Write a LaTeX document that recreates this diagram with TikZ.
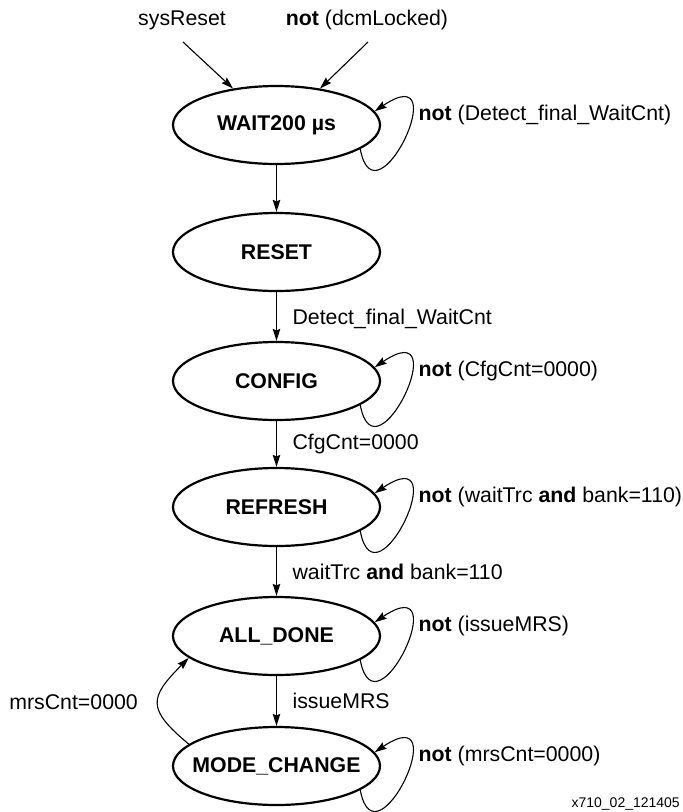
\documentclass[tikz,border=0pt]{standalone}
\usepackage{fontspec}
\setmainfont{Liberation Sans}
\usetikzlibrary{arrows.meta,shapes.geometric,calc}
\newcommand\stname[1]{\makebox[0pt]{\bfseries #1}}
\begin{document}
\begin{tikzpicture}[x=1pt,y=-1pt,
  font=\fontsize{21.3}{24}\selectfont,
  state/.style={ellipse,draw,line width=2.2pt,minimum width=207pt,minimum height=78pt,inner sep=0pt},
  conn/.style={line width=1.1pt,-{Stealth[length=12pt,width=7.5pt,inset=1.5pt]}},
  lbl/.style={inner sep=0pt},
  selfloop/.style={conn}]
\useasboundingbox (0,0) rectangle (683,812);
\node[state] (wait) at (276.5,125) {\stname{WAIT200 µs}};
\node[state] (reset) at (276.5,252) {\stname{RESET}};
\node[state] (config) at (276.5,381) {\stname{CONFIG}};
\node[state] (refresh) at (276.5,507) {\stname{REFRESH}};
\node[state] (done) at (276.5,636) {\stname{ALL\_DONE}};
\node[state] (mode) at (276.5,766) {\stname{MODE\_CHANGE}};
% top inputs
\node[lbl] (sys) at (182,20) {sysReset};
\node[lbl] (dcm) at (367,20) {\textbf{not} (dcmLocked)};
\coordinate (s1) at (183,42);
\coordinate (s2) at (368,42);
\draw[conn] (s1) -- (wait.140);
\draw[conn] (s2) -- (wait.40);
% vertical transitions
\draw[conn] (wait) -- (reset);
\draw[conn] (reset) -- node[lbl,anchor=west,xshift=15.5pt,yshift=-2pt]{Detect\_final\_WaitCnt} (config);
\draw[conn] (config) -- node[lbl,anchor=west,xshift=15.5pt]{CfgCnt=0000} (refresh);
\draw[conn] (refresh) -- node[lbl,anchor=west,xshift=15.5pt]{waitTrc \textbf{and} bank=110} (done);
\draw[conn] (done) -- node[lbl,anchor=west,xshift=15.5pt]{issueMRS} (mode);
% self loops
\foreach \n/\t in {wait/{\textbf{not} (Detect\_final\_WaitCnt)},
                   config/{\textbf{not} (CfgCnt=0000)},
                   refresh/{\textbf{not} (waitTrc \textbf{and} bank=110)},
                   done/{\textbf{not} (issueMRS)},
                   mode/{\textbf{not} (mrsCnt=0000)}}{
  \draw[selfloop] (\n.-16) .. controls +(15,80) and +(82,-55) .. (\n.8);
  \node[lbl,anchor=west] at ($(\n.center)+(142,-10)$) {\t};
}
% return arc
\draw[conn] (mode.166) .. controls +(-42,-35) and +(-40,40) .. (done.194);
\node[lbl,anchor=east] (mrs) at (138,702) {mrsCnt=0000};
\node[lbl,anchor=base east,font=\fontsize{14}{16}\selectfont] (fig) at (680,807) {x710\_02\_121405};
\end{tikzpicture}
\end{document}
